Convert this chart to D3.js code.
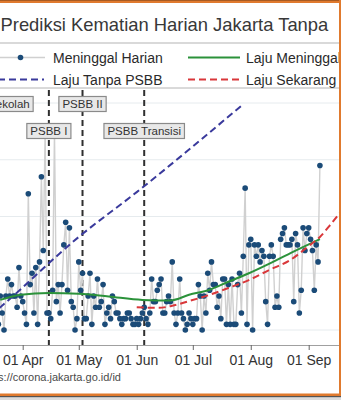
<!DOCTYPE html>
<html>
<head>
<meta charset="utf-8">
<script src="https://cdn.jsdelivr.net/npm/d3@7"></script>
<style>
  html, body { margin: 0; padding: 0; background: #fff; overflow: hidden; }
  svg { display: block; font-family: "Liberation Sans", Arial, sans-serif; }
</style>
</head>
<body>
<svg id="chart" width="341" height="400"></svg>
<script>
// Daily deaths in Jakarta, one value per day starting at firstDay
const firstDay = "2020-03-19";
const dailyDeaths = [
  1, 6, 3, 0, 6, 9, 6, 8, 6, 6, 4, 11, 6, 5, 3, 1, 24, 8, 10, 3,
  11, 1, 12, 27, 14, 35, 3, 3, 2, 7, 35, 5, 8, 3, 8, 15, 19, 7, 18, 5,
  4, 0, 2, 12, 7, 10, 2, 2, 6, 10, 1, 6, 4, 9, 4, 5, 8, 1, 3, 4,
  2, 6, 5, 3, 3, 2, 1, 2, 2, 3, 3, 2, 1, 1, 2, 1, 2, 3, 4, 2,
  1, 3, 9, 5, 5, 7, 8, 9, 3, 3, 5, 6, 5, 12, 3, 1, 3, 9, 3, 2,
  0, 1, 3, 2, 1, 2, 2, 8, 6, 0, 6, 3, 10, 7, 12, 8, 8, 4, 6, 2,
  9, 9, 1, 8, 1, 9, 1, 1, 8, 10, 3, 13, 25, 1, 15, 16, 0, 15, 13, 15,
  12, 14, 13, 5, 1, 13, 15, 13, 4, 6, 4, 16, 17, 18, 15, 15, 15, 16, 5, 17,
  15, 3, 7, 18, 14, 17, 18, 16, 14, 7, 15, 12, 29
];

// Smoothed death rate (green)
const trendDates  = ["2020-03-20","2020-03-31","2020-04-15","2020-05-01","2020-05-17","2020-06-04","2020-06-19","2020-06-29","2020-07-10","2020-07-20","2020-07-31","2020-08-11","2020-08-22","2020-09-07"];
const trendValues = [5.3, 6.2, 6.5, 6.4, 5.9, 5.3, 5.2, 6.2, 7.1, 8.5, 10.0, 11.7, 13.5, 16.0];

// Current rate projection (red dashed)
const currentDates  = ["2020-06-01","2020-06-13","2020-06-19","2020-06-29","2020-07-10","2020-07-20","2020-07-31","2020-08-11","2020-08-22","2020-09-01","2020-09-07","2020-09-12","2020-09-19"];
const currentValues = [4.0, 3.9, 4.2, 5.1, 6.2, 7.4, 8.8, 10.6, 12.3, 14.8, 16.4, 18.3, 21.2];

// Rate without PSBB (blue dashed)
const noPsbbDates  = ["2020-03-15","2020-03-20","2020-05-01","2020-06-01","2020-07-28"];
const noPsbbValues = [2.6, 4.0, 16.4, 24.3, 39.8];

// Policy events
const eventDates  = ["2020-03-16", "2020-04-15", "2020-05-03", "2020-06-05"];
const eventLabels = ["Tutup Sekolah", "PSBB I", "PSBB II", "PSBB Transisi"];
const eventRows   = [0, 1, 0, 1];

const monthTicks = ["2020-04-01","2020-05-01","2020-06-01","2020-07-01","2020-08-01","2020-09-01"];
const yTicks = [0, 10, 20, 30, 40];

const legendLabels = ["Meninggal Harian", "Laju Meninggal", "Laju Tanpa PSBB", "Laju Sekarang"];
const titleText  = "Prediksi Kematian Harian Jakarta Tanpa";
const sourceText = "Sumber: https://corona.jakarta.go.id/id";

// ---------------------------------------------------------------
const parse = d3.utcParse("%Y-%m-%d");
const W = 341, H = 400;
const svg = d3.select("#chart");

const colors = {
  dot: "#1b4b78", connect: "#d0d0d0", green: "#2b923a",
  blue: "#3a3a9c", red: "#d9373a", grid: "#e6ebee", event: "#2f2f2f",
  text: "#333", frame: "#e07a2e"
};

// time scale: 01 Apr and 01 Sep anchor the axis, extended over the full width
const xBase = d3.scaleUtc().domain([parse("2020-04-01"), parse("2020-09-01")]).range([22.7, 308.7]);
const x = xBase.copy().domain([xBase.invert(-2), xBase.invert(W + 2)]).range([-2, W + 2]);
const y = d3.scaleLinear().domain([0, 40]).range([330, 103]);

svg.append("rect").attr("width", W).attr("height", H).attr("fill", "#fff");

// title
svg.append("text").attr("x", 0.5).attr("y", 31)
  .attr("font-size", 18.4).attr("fill", "#383838").text(titleText);

// legend
const lg = svg.append("g");
lg.append("rect").attr("x", -5).attr("y", 43).attr("width", W + 10).attr("height", 45)
  .attr("fill", "#fff").attr("stroke", "#b4b4b4").attr("stroke-width", 1);
const rows = [57.5, 79.5];
lg.append("line").attr("x1", -5).attr("x2", 45).attr("y1", rows[0]).attr("y2", rows[0])
  .attr("stroke", colors.connect).attr("stroke-width", 1.5);
lg.append("circle").attr("cx", 20.5).attr("cy", rows[0]).attr("r", 2.8).attr("fill", colors.dot);
lg.append("line").attr("x1", 188).attr("x2", 240).attr("y1", rows[0]).attr("y2", rows[0])
  .attr("stroke", colors.green).attr("stroke-width", 2);
lg.append("line").attr("x1", -2).attr("x2", 44).attr("y1", rows[1]).attr("y2", rows[1])
  .attr("stroke", colors.blue).attr("stroke-width", 2).attr("stroke-dasharray", "7,4");
lg.append("line").attr("x1", 188).attr("x2", 240).attr("y1", rows[1]).attr("y2", rows[1])
  .attr("stroke", colors.red).attr("stroke-width", 2).attr("stroke-dasharray", "7,4");
const legendPos = [[53, rows[0]], [246, rows[0]], [53, rows[1]], [246, rows[1]]];
legendLabels.forEach((t, i) => {
  lg.append("text").attr("x", legendPos[i][0]).attr("y", legendPos[i][1] + 5)
    .attr("font-size", 14).attr("fill", "#2a2a2a").text(t);
});

// gridlines
svg.append("g").selectAll("line").data(yTicks).join("line")
  .attr("x1", -2).attr("x2", W + 2)
  .attr("y1", d => y(d)).attr("y2", d => y(d))
  .attr("stroke", colors.grid).attr("stroke-width", 1);

// x axis
const xAxis = d3.axisBottom(x)
  .tickValues(monthTicks.map(parse))
  .tickFormat(d3.utcFormat("%d %b"))
  .tickSize(5).tickSizeOuter(0).tickPadding(5);
const ax = svg.append("g").attr("transform", "translate(0,345)").call(xAxis);
ax.select(".domain").attr("stroke", "#a0a0a0").attr("stroke-width", 1);
ax.selectAll(".tick line").attr("stroke", "#666").attr("stroke-width", 1);
ax.selectAll(".tick text").attr("font-size", 14).attr("fill", colors.text)
  .attr("font-family", "'Liberation Sans', Arial, sans-serif");

// source note
svg.append("text").attr("x", 121).attr("y", 381).attr("text-anchor", "end")
  .attr("font-size", 11).attr("fill", "#4a4a4a").text(sourceText);

// event lines
svg.append("g").selectAll("line").data(eventDates).join("line")
  .attr("x1", d => x(parse(d))).attr("x2", d => x(parse(d)))
  .attr("y1", 90).attr("y2", 345)
  .attr("stroke", colors.event).attr("stroke-width", 2).attr("stroke-dasharray", "6,4");

// daily series
const start = parse(firstDay);
const series = dailyDeaths.map((v, i) => ({ date: d3.utcDay.offset(start, i), value: v }));
const dataG = svg.append("g");
dataG.append("path").datum(series)
  .attr("fill", "none").attr("stroke", colors.connect).attr("stroke-width", 1.4)
  .attr("d", d3.line().x(d => x(d.date)).y(d => y(d.value)));
dataG.selectAll("circle").data(series).join("circle")
  .attr("cx", d => x(d.date)).attr("cy", d => y(d.value)).attr("r", 2.8)
  .attr("fill", colors.dot);

// rate lines
function rateLine(dates, values, color, dash) {
  const pts = dates.map((d, i) => ({ date: parse(d), value: values[i] }));
  svg.append("path").datum(pts)
    .attr("fill", "none").attr("stroke", color).attr("stroke-width", 2)
    .attr("stroke-dasharray", dash)
    .attr("d", d3.line().curve(d3.curveMonotoneX).x(d => x(d.date)).y(d => y(d.value)));
}
rateLine(noPsbbDates, noPsbbValues, colors.blue, "7,4");
rateLine(trendDates, trendValues, colors.green, null);
rateLine(currentDates, currentValues, colors.red, "7,4");

// event label boxes
const rowY = [104, 131];
eventDates.forEach((d, i) => {
  const cx = x(parse(d));
  const g = svg.append("g");
  const rect = g.append("rect");
  const t = g.append("text").attr("x", cx).attr("y", rowY[eventRows[i]] + 4)
    .attr("text-anchor", "middle").attr("font-size", 11.5).attr("fill", "#333")
    .text(eventLabels[i]);
  const w = t.node().getComputedTextLength() + 7;
  rect.attr("x", cx - w / 2).attr("y", rowY[eventRows[i]] - 7.5)
    .attr("width", w).attr("height", 15)
    .attr("fill", "#e8e8e8").attr("stroke", "#8a8a8a").attr("stroke-width", 1.2);
});

// frame
svg.append("rect").attr("x", 0).attr("y", 0).attr("width", W).attr("height", 3).attr("fill", colors.frame);
svg.append("rect").attr("x", 0).attr("y", 0).attr("width", W).attr("height", 0.8).attr("fill", "#9a5420");
svg.append("rect").attr("x", W - 2).attr("y", 0).attr("width", 2).attr("height", 396).attr("fill", colors.frame);
svg.append("rect").attr("x", 0).attr("y", 393.5).attr("width", W).attr("height", 2.5).attr("fill", colors.frame);
svg.append("rect").attr("x", 0).attr("y", 396).attr("width", W).attr("height", 1.5).attr("fill", "#555");
svg.append("rect").attr("x", 0).attr("y", 397.5).attr("width", W).attr("height", 2.5).attr("fill", "#dcdcdc");
</script>
</body>
</html>
